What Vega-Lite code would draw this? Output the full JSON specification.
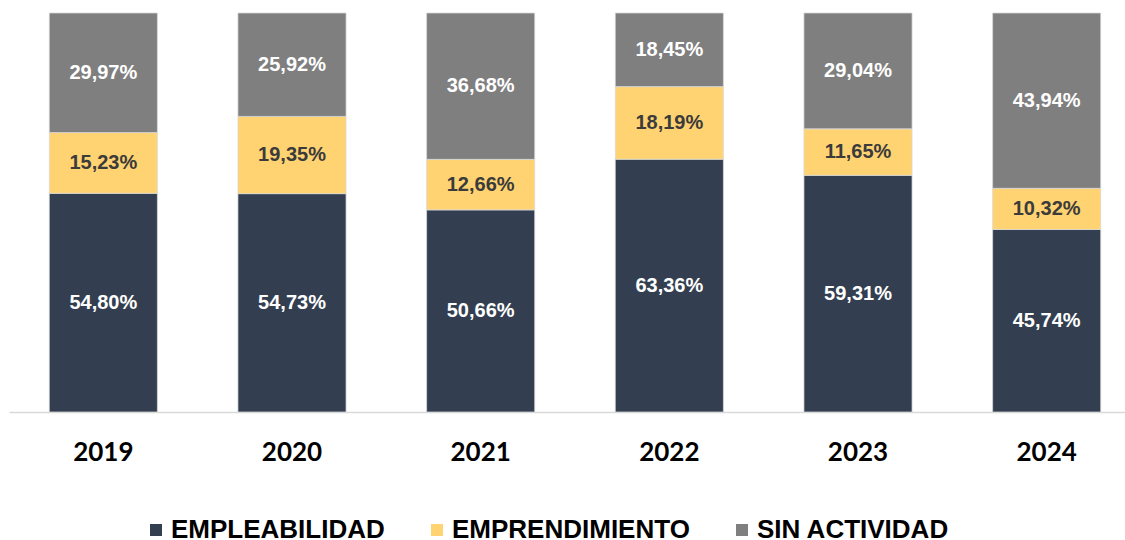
{
  "$schema": "https://vega.github.io/schema/vega-lite/v6.json",
  "autosize": "none",
  "width": 1116,
  "height": 399,
  "padding": {"left": 9, "top": 13, "right": 0, "bottom": 128},
  "background": "white",
  "config": {
    "view": {"stroke": null},
    "locale": {"number": {"decimal": ",", "thousands": ".", "grouping": [3], "currency": ["", " €"]}}
  },
  "data": {
    "values": [
      {"anio": "2019", "categoria": "EMPLEABILIDAD", "valor": 0.5480},
      {"anio": "2019", "categoria": "EMPRENDIMIENTO", "valor": 0.1523},
      {"anio": "2019", "categoria": "SIN ACTIVIDAD", "valor": 0.2997},
      {"anio": "2020", "categoria": "EMPLEABILIDAD", "valor": 0.5473},
      {"anio": "2020", "categoria": "EMPRENDIMIENTO", "valor": 0.1935},
      {"anio": "2020", "categoria": "SIN ACTIVIDAD", "valor": 0.2592},
      {"anio": "2021", "categoria": "EMPLEABILIDAD", "valor": 0.5066},
      {"anio": "2021", "categoria": "EMPRENDIMIENTO", "valor": 0.1266},
      {"anio": "2021", "categoria": "SIN ACTIVIDAD", "valor": 0.3668},
      {"anio": "2022", "categoria": "EMPLEABILIDAD", "valor": 0.6336},
      {"anio": "2022", "categoria": "EMPRENDIMIENTO", "valor": 0.1819},
      {"anio": "2022", "categoria": "SIN ACTIVIDAD", "valor": 0.1845},
      {"anio": "2023", "categoria": "EMPLEABILIDAD", "valor": 0.5931},
      {"anio": "2023", "categoria": "EMPRENDIMIENTO", "valor": 0.1165},
      {"anio": "2023", "categoria": "SIN ACTIVIDAD", "valor": 0.2904},
      {"anio": "2024", "categoria": "EMPLEABILIDAD", "valor": 0.4574},
      {"anio": "2024", "categoria": "EMPRENDIMIENTO", "valor": 0.1032},
      {"anio": "2024", "categoria": "SIN ACTIVIDAD", "valor": 0.4394}
    ]
  },
  "encoding": {
    "x": {
      "field": "anio", "type": "nominal", "title": null,
      "scale": {"range": [0, 1132], "paddingInner": 0.427, "paddingOuter": 0.2135},
      "axis": {
        "labelAngle": 0, "labelFont": "Lato", "labelFontWeight": "bold", "labelFontSize": 26,
        "labelColor": "#000000", "labelPadding": 27, "ticks": false,
        "domainColor": "#D9D9D9", "domainWidth": 1.5, "grid": false
      }
    }
  },
  "layer": [
    {
      "mark": {"type": "bar", "stroke": "#D9D9D9", "strokeWidth": 0.75},
      "encoding": {
        "y": {"field": "valor", "type": "quantitative", "stack": "zero", "axis": null, "scale": {"domain": [0, 1], "nice": false}},
        "order": {"field": "categoria", "type": "nominal", "sort": "ascending"},
        "color": {
          "field": "categoria", "type": "nominal",
          "scale": {"domain": ["EMPLEABILIDAD", "EMPRENDIMIENTO", "SIN ACTIVIDAD"], "range": ["#333F50", "#FFD371", "#7F7F7F"]},
          "legend": {
            "title": null, "orient": "none", "direction": "horizontal",
            "legendX": 134, "legendY": 504,
            "symbolType": "square", "symbolSize": 144, "symbolStrokeWidth": 0,
            "labelFont": "Liberation Sans", "labelFontWeight": "bold", "labelFontSize": 26,
            "labelColor": "#000000", "labelOffset": 2, "columnPadding": 39, "labelLimit": 400
          }
        }
      }
    },
    {
      "transform": [
        {"stack": "valor", "groupby": ["anio"], "sort": [{"field": "categoria", "order": "ascending"}], "as": ["v0", "v1"]},
        {"calculate": "(datum.v0 + datum.v1) / 2", "as": "mid"}
      ],
      "mark": {"type": "text", "font": "Liberation Sans", "fontWeight": "bold", "fontSize": 20, "baseline": "middle", "align": "center"},
      "encoding": {
        "y": {"field": "mid", "type": "quantitative", "scale": {"domain": [0, 1], "nice": false}},
        "text": {"field": "valor", "type": "quantitative", "format": ".2%"},
        "color": {
          "condition": {"test": "datum.categoria === 'EMPRENDIMIENTO'", "value": "#3B3B3B"},
          "value": "#FFFFFF"
        }
      }
    }
  ]
}
